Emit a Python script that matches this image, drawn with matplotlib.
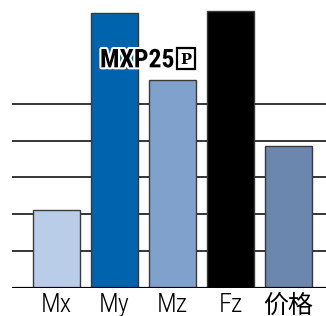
import matplotlib
matplotlib.use("Agg")
import matplotlib.pyplot as plt
import matplotlib.patheffects as pe
from matplotlib.patches import Rectangle
from matplotlib.font_manager import FontProperties

# ── data ──────────────────────────────────────────────────────────────────────
categories = ["Mx", "My", "Mz", "Fz", "价格"]
values     = [2.1, 7.47, 5.64, 7.51, 3.85]
colors     = ["#b9cde9", "#0063ad", "#7fa1cc", "#000000", "#6b87ae"]
grid_lines = [1, 2, 3, 4, 5]
model_name = "MXP25"
badge      = "P"

plt.rcParams["font.family"] = ["Roboto Condensed", "Noto Sans CJK SC", "DejaVu Sans"]

LATIN_TICK = FontProperties(family="Roboto Condensed", weight=300, size=19)
CJK_TICK   = FontProperties(family=["Roboto Condensed", "Noto Sans CJK SC", "DejaVu Sans"],
                            weight="normal", size=18)

# ── figure ────────────────────────────────────────────────────────────────────
fig = plt.figure(figsize=(3.26, 3.16), dpi=100)
ax = fig.add_axes([12 / 326, 28.3 / 316, 1 - 12 / 326, 1 - 28.3 / 316])

for g in grid_lines:
    ax.axhline(g, color="black", lw=1.1, zorder=1)
ax.axhline(0, color="black", lw=1.6, zorder=3)

x = list(range(len(categories)))
ax.bar(x, values, width=0.8, color=colors, edgecolor="#3a3a3a", linewidth=1.0, zorder=2)

ax.set_xlim(-0.77, 4.65)
ax.set_ylim(0, 7.82)
ax.set_yticks([])
ax.set_xticks(x)
ax.set_xticklabels(categories)
for lbl in ax.get_xticklabels():
    lbl.set_fontproperties(LATIN_TICK if lbl.get_text().isascii() else CJK_TICK)
ax.tick_params(axis="x", length=0, pad=4)
for s in ax.spines.values():
    s.set_visible(False)

# model label with boxed badge
stroke = [pe.withStroke(linewidth=3, foreground="white")]
ax.text(1.395, 5.99, model_name, ha="center", va="baseline", fontsize=18.5,
        fontweight="bold", color="black", path_effects=stroke, zorder=5)
ax.add_patch(Rectangle((2.081, 5.935), 0.311, 0.57, fc="white", ec="black",
                       lw=1.6, zorder=5))
ax.text(2.236, 6.2, badge, ha="center", va="center", fontsize=10.5,
        family="DejaVu Serif", fontweight="bold", color="black", zorder=6)

fig.savefig("out.png", dpi=100)
